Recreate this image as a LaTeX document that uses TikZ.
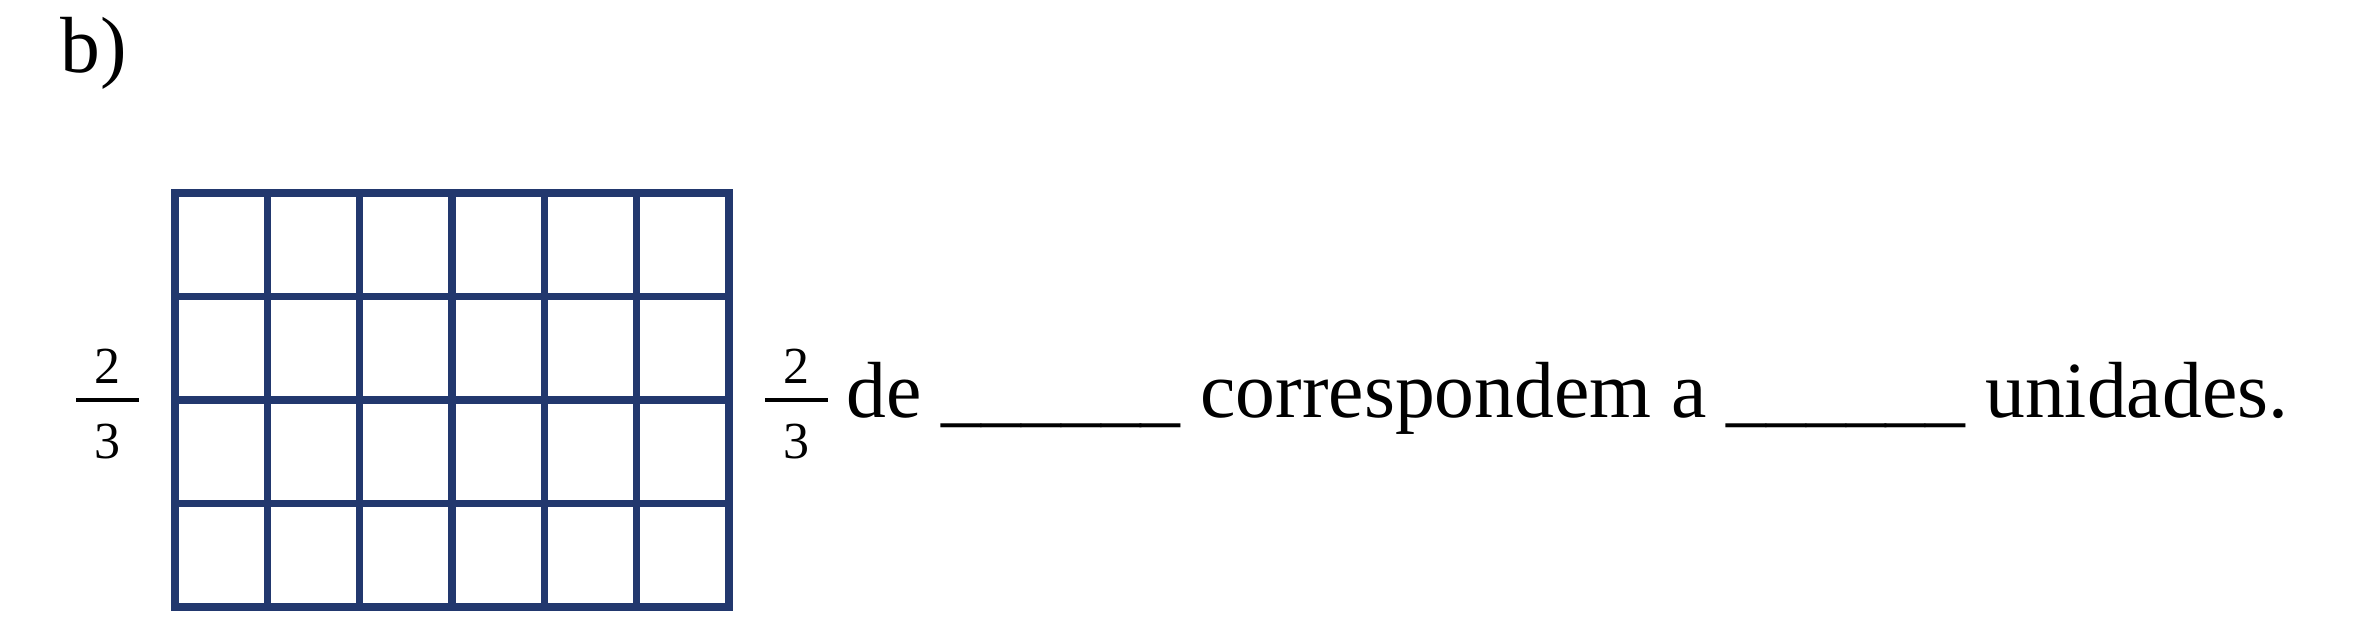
\documentclass[tikz,border=0pt]{standalone}
\usepackage{fontspec}
\setmainfont{Liberation Serif}
\usetikzlibrary{positioning}
\definecolor{gridnavy}{RGB}{34,56,110}

\tikzset{
  cellgrid/.style={draw=gridnavy, line width=1.9pt, line cap=rect},
  bigtext/.style={font=\fontsize{19.9}{24}\selectfont, inner sep=0pt},
  fracdigit/.style={font=\fontsize{13}{15}\selectfont, inner sep=0pt, anchor=base},
  fracbar/.style={line width=1pt}
}

\begin{document}
\begin{tikzpicture}[x=25pt,y=25pt]
\useasboundingbox (0,0) rectangle (23.62,6.33);

% item label
\node[bigtext, anchor=base west] (item) at (0.595,5.60) {b)};

% grid 6 x 4
\foreach \i in {0,...,6}
  \draw[cellgrid] ({1.75+0.9233*\i},0.26) -- ({1.75+0.9233*\i},4.40);
\foreach \j in {0,...,4}
  \draw[cellgrid] (1.75,{0.26+1.035*\j}) -- (7.29,{0.26+1.035*\j});

% left fraction
\node[fracdigit] (lnum) at (1.077,2.50) {2};
\node[fracdigit] (lden) at (1.077,1.75) {3};
\draw[fracbar] (0.76,2.33) -- (1.393,2.33);

% right fraction
\node[fracdigit] (rnum) at (7.965,2.50) {2};
\node[fracdigit] (rden) at (7.965,1.75) {3};
\draw[fracbar] (7.65,2.33) -- (8.28,2.33);

% sentence
\node[bigtext, anchor=base west] (sentence) at (8.46,2.16)
  {de \_\_\_\_\_\_ correspondem a \_\_\_\_\_\_ unidades.};
\end{tikzpicture}
\end{document}
